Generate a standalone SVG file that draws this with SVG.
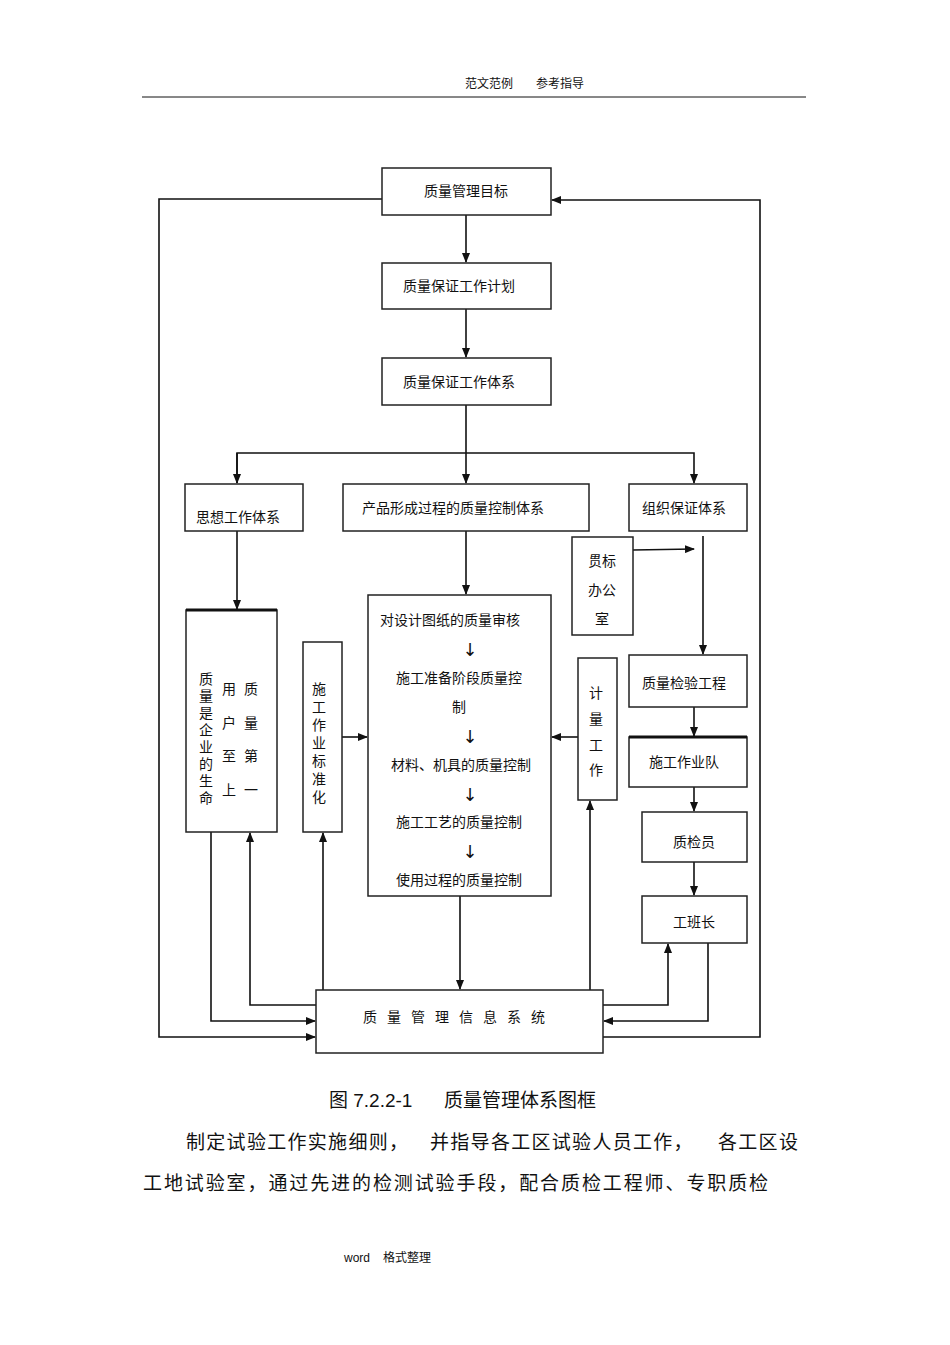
<svg xmlns="http://www.w3.org/2000/svg" width="950" height="1345" viewBox="0 0 950 1345">
<style>
text{font-family:"Liberation Sans","Noto Sans CJK SC",sans-serif;fill:#111}
.n{font-size:14px;text-anchor:middle}
.ar{font-size:18px;font-family:"DejaVu Sans",sans-serif}
rect{fill:#fff;stroke:#222;stroke-width:1.5}
.c line,.c polyline{stroke:#111;stroke-width:1.6;fill:none}
</style>
<defs><marker id="a" markerWidth="10" markerHeight="8" refX="9" refY="4" orient="auto" markerUnits="userSpaceOnUse"><path d="M0,0 L10,4 L0,8 Z" fill="#111"/></marker></defs>
<text font-size="12"><tspan x="465" y="88">范文范例</tspan><tspan x="536" y="88">参考指导</tspan></text>
<line x1="142" y1="97" x2="806" y2="97" stroke="#111" stroke-width="1"/>
<g class="c">
<line x1="466" y1="215" x2="466" y2="262" marker-end="url(#a)"/>
<line x1="466" y1="309" x2="466" y2="357" marker-end="url(#a)"/>
<line x1="466" y1="405" x2="466" y2="483" marker-end="url(#a)"/>
<polyline points="237,483 237,453 694,453 694,483" marker-end="url(#a)"/>
<polyline points="237,453 237,483" marker-end="url(#a)"/>
<line x1="237" y1="531" x2="237" y2="609" marker-end="url(#a)"/>
<line x1="466" y1="531" x2="466" y2="594" marker-end="url(#a)"/>
<line x1="342" y1="737" x2="367" y2="737" marker-end="url(#a)"/>
<line x1="578" y1="737" x2="552" y2="737" marker-end="url(#a)"/>
<line x1="633" y1="550" x2="694" y2="549" marker-end="url(#a)"/>
<line x1="703" y1="536" x2="703" y2="654" marker-end="url(#a)"/>
<line x1="694" y1="707" x2="694" y2="736" marker-end="url(#a)"/>
<line x1="694" y1="787" x2="694" y2="811" marker-end="url(#a)"/>
<line x1="694" y1="862" x2="694" y2="895" marker-end="url(#a)"/>
<polyline points="382,199 159,199 159,1037 315,1037" marker-end="url(#a)"/>
<polyline points="603,1037 760,1037 760,200 552,200" marker-end="url(#a)"/>
<polyline points="211,832 211,1021 315,1021" marker-end="url(#a)"/>
<polyline points="316,1005 250,1005 250,833" marker-end="url(#a)"/>
<line x1="323" y1="990" x2="323" y2="833" marker-end="url(#a)"/>
<line x1="460" y1="896" x2="460" y2="989" marker-end="url(#a)"/>
<line x1="590" y1="990" x2="590" y2="801" marker-end="url(#a)"/>
<polyline points="603,1005 668,1005 668,944" marker-end="url(#a)"/>
<polyline points="708,943 708,1021 604,1021" marker-end="url(#a)"/>
</g>
<g id="n1"><rect x="382" y="168" width="169" height="47"/><text class="n" x="466" y="196">质量管理目标</text></g>
<g id="n2"><rect x="382" y="263" width="169" height="46"/><text class="n" x="459" y="291">质量保证工作计划</text></g>
<g id="n3"><rect x="382" y="358" width="169" height="47"/><text class="n" x="459" y="387">质量保证工作体系</text></g>
<g id="n4"><rect x="185" y="484" width="118" height="47"/><text class="n" x="238" y="522">思想工作体系</text></g>
<g id="n5"><rect x="343" y="484" width="246" height="47"/><text class="n" x="453" y="513">产品形成过程的质量控制体系</text></g>
<g id="n6"><rect x="629" y="484" width="118" height="47"/><text class="n" x="684" y="513">组织保证体系</text></g>
<g id="n7"><rect x="186" y="610" width="91" height="222"/><line x1="186" y1="610" x2="277" y2="610" stroke="#111" stroke-width="3"/>
<text class="n"><tspan x="206" y="684">质</tspan><tspan x="206" y="701">量</tspan><tspan x="206" y="718">是</tspan><tspan x="206" y="735">企</tspan><tspan x="206" y="752">业</tspan><tspan x="206" y="769">的</tspan><tspan x="206" y="786">生</tspan><tspan x="206" y="803">命</tspan></text>
<text class="n"><tspan x="229" y="694">用</tspan><tspan x="229" y="728">户</tspan><tspan x="229" y="761">至</tspan><tspan x="229" y="795">上</tspan></text>
<text class="n"><tspan x="251" y="694">质</tspan><tspan x="251" y="728">量</tspan><tspan x="251" y="761">第</tspan><tspan x="251" y="795">一</tspan></text></g>
<g id="n8"><rect x="303" y="642" width="39" height="190"/>
<text class="n"><tspan x="319" y="694">施</tspan><tspan x="319" y="712">工</tspan><tspan x="319" y="730">作</tspan><tspan x="319" y="748">业</tspan><tspan x="319" y="766">标</tspan><tspan x="319" y="784">准</tspan><tspan x="319" y="802">化</tspan></text></g>
<g id="n9"><rect x="368" y="595" width="183" height="301"/>
<text class="n"><tspan x="450" y="625">对设计图纸的质量审核</tspan><tspan x="459" y="683">施工准备阶段质量控</tspan><tspan x="459" y="712">制</tspan><tspan x="461" y="770">材料、机具的质量控制</tspan><tspan x="459" y="827">施工工艺的质量控制</tspan><tspan x="459" y="885">使用过程的质量控制</tspan></text>
<text class="n ar"><tspan x="470" y="656">↓</tspan><tspan x="470" y="743">↓</tspan><tspan x="470" y="801">↓</tspan><tspan x="470" y="858">↓</tspan></text></g>
<g id="n10"><rect x="578" y="658" width="39" height="142"/>
<text class="n"><tspan x="596" y="698">计</tspan><tspan x="596" y="724">量</tspan><tspan x="596" y="750">工</tspan><tspan x="596" y="775">作</tspan></text></g>
<g id="n11"><rect x="572" y="537" width="61" height="98"/>
<text class="n"><tspan x="602" y="566">贯标</tspan><tspan x="602" y="595">办公</tspan><tspan x="602" y="624">室</tspan></text></g>
<g id="n12"><rect x="629" y="655" width="118" height="52"/><text class="n" x="684" y="688">质量检验工程</text></g>
<g id="n13"><rect x="629" y="737" width="118" height="50"/><line x1="629" y1="737" x2="747" y2="737" stroke="#111" stroke-width="3"/><text class="n" x="684" y="767">施工作业队</text></g>
<g id="n14"><rect x="642" y="812" width="105" height="50"/><text class="n" x="694" y="847">质检员</text></g>
<g id="n15"><rect x="642" y="896" width="105" height="47"/><text class="n" x="694" y="927">工班长</text></g>
<g id="n16"><rect x="316" y="990" width="287" height="63"/><text class="n" x="459" y="1022" letter-spacing="10">质量管理信息系统</text></g>
<text font-size="19"><tspan x="329" y="1107">图 7.2.2-1</tspan><tspan x="444" y="1107">质量管理体系图框</tspan></text>
<text font-size="19" letter-spacing="1.3"><tspan x="186" y="1149">制定试验工作实施细则，</tspan><tspan x="430" y="1149">并指导各工区试验人员工作，</tspan><tspan x="718" y="1149">各工区设</tspan></text>
<text x="143" y="1190" font-size="19" letter-spacing="1.9">工地试验室，通过先进的检测试验手段，配合质检工程师、专职质检</text>
<text font-size="12"><tspan x="344" y="1262">word</tspan><tspan x="383" y="1262">格式整理</tspan></text>
</svg>
